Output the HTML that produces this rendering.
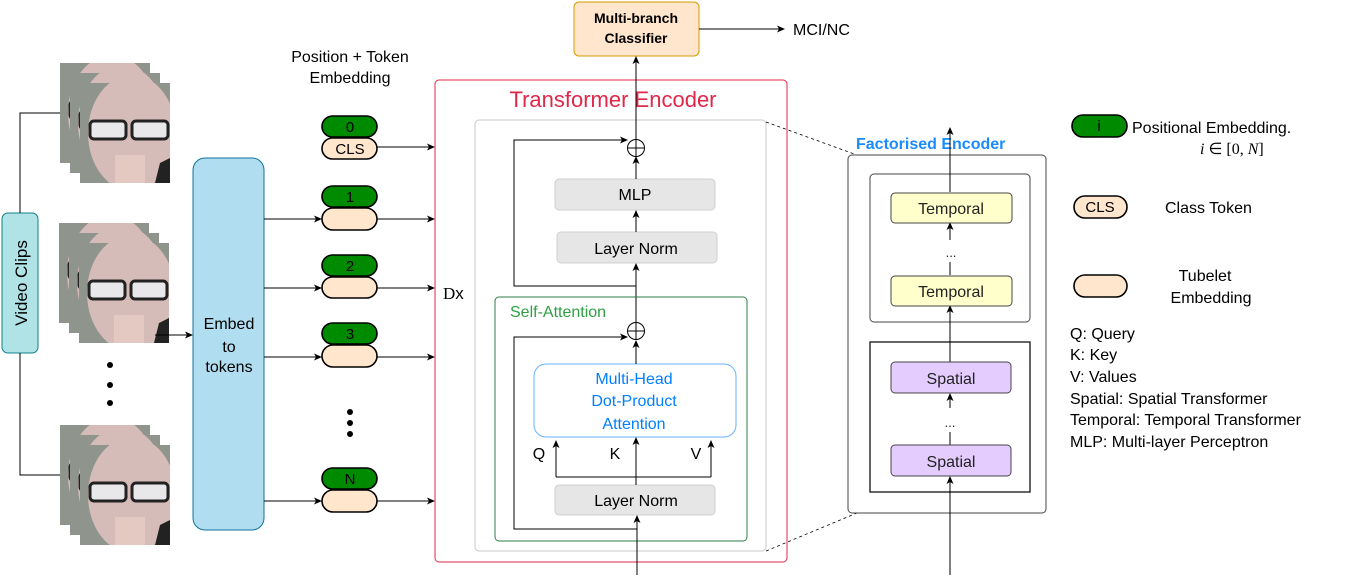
<!DOCTYPE html>
<html><head><meta charset="utf-8"><style>
html,body{margin:0;padding:0;background:#fff;}
svg{display:block;font-family:"Liberation Sans",sans-serif;}
</style></head><body>
<svg width="1346" height="581" viewBox="0 0 1346 581" xmlns="http://www.w3.org/2000/svg">
<defs>
<marker id="a" markerWidth="8" markerHeight="8" refX="7" refY="4" orient="auto" markerUnits="userSpaceOnUse">
<path d="M0,0.5 L8,4 L0,7.5 L2,4 z" fill="#000"/></marker>
<symbol id="face" viewBox="0 0 90 100" overflow="hidden">
<rect width="90" height="100" fill="#8f948c"/>
<ellipse cx="52" cy="50" rx="44" ry="58" fill="#d6bcb8"/>
<rect x="10" y="38" width="36" height="18" rx="4" fill="#e8e8ea" stroke="#222" stroke-width="3"/>
<rect x="52" y="38" width="36" height="18" rx="4" fill="#e8e8ea" stroke="#222" stroke-width="3"/>
<rect x="35" y="72" width="30" height="28" fill="#e4c8c2"/>
<path d="M80,80 L90,75 L90,100 L75,100z" fill="#222"/>
</symbol>
</defs>
<rect width="1346" height="581" fill="#fff"/>

<!-- Video clips -->
<rect x="2" y="213" width="36" height="140" rx="6" fill="#b0e3e6" stroke="#0e8088"/>
<text transform="translate(27,283) rotate(-90)" font-size="17" text-anchor="middle">Video Clips</text>
<path d="M20,213 V113 H60 M20,353 V475 H60" fill="none" stroke="#000"/>
<use href="#face" x="60" y="63" width="90" height="100"/><use href="#face" x="70" y="73" width="90" height="100"/><use href="#face" x="80" y="83" width="90" height="100"/>
<use href="#face" x="59" y="223" width="90" height="100"/><use href="#face" x="69" y="233" width="90" height="100"/><use href="#face" x="79" y="243" width="90" height="100"/>
<use href="#face" x="60" y="425" width="90" height="100"/><use href="#face" x="70" y="435" width="90" height="100"/><use href="#face" x="80" y="445" width="90" height="100"/>
<circle cx="110" cy="365" r="3"/><circle cx="110" cy="385" r="3"/><circle cx="110" cy="403" r="3"/>
<line x1="155" y1="335" x2="192" y2="335" stroke="#000" marker-end="url(#a)"/>

<rect x="193" y="158" width="71" height="372" rx="12" fill="#b1ddf0" stroke="#10739e"/>
<text font-size="16" text-anchor="middle"><tspan x="229" y="329">Embed</tspan><tspan x="229" y="352">to</tspan><tspan x="229" y="372">tokens</tspan></text>

<text font-size="16" text-anchor="middle"><tspan x="350" y="62">Position + Token</tspan><tspan x="350" y="83">Embedding</tspan></text>

<g stroke="#000" stroke-width="1.6">
<rect x="322" y="116" width="55" height="21" rx="10.5" fill="#008a00"/>
<rect x="322" y="138" width="55" height="21" rx="10.5" fill="#ffe6cc"/>
<rect x="322" y="186" width="55" height="21" rx="10.5" fill="#008a00"/>
<rect x="322" y="208" width="55" height="22" rx="11" fill="#ffe6cc"/>
<rect x="322" y="255" width="55" height="21" rx="10.5" fill="#008a00"/>
<rect x="322" y="277" width="55" height="21" rx="10.5" fill="#ffe6cc"/>
<rect x="322" y="323" width="55" height="21" rx="10.5" fill="#008a00"/>
<rect x="322" y="345" width="55" height="22" rx="11" fill="#ffe6cc"/>
<rect x="322" y="468" width="55" height="21" rx="10.5" fill="#008a00"/>
<rect x="322" y="490" width="55" height="22" rx="11" fill="#ffe6cc"/>
</g>
<g font-size="15" text-anchor="middle">
<text x="350" y="132">0</text><text x="350" y="154">CLS</text>
<text x="350" y="202">1</text><text x="350" y="271">2</text><text x="350" y="339">3</text><text x="350" y="484">N</text>
</g>
<circle cx="350" cy="412" r="3"/><circle cx="350" cy="423" r="3"/><circle cx="350" cy="434" r="3"/>
<g stroke="#000" marker-end="url(#a)">
<line x1="264" y1="219" x2="321" y2="219"/><line x1="264" y1="288" x2="321" y2="288"/>
<line x1="264" y1="357" x2="321" y2="357"/><line x1="264" y1="501" x2="321" y2="501"/>
<line x1="377" y1="147" x2="434" y2="147"/><line x1="377" y1="219" x2="434" y2="219"/>
<line x1="377" y1="288" x2="434" y2="288"/><line x1="377" y1="357" x2="434" y2="357"/>
<line x1="377" y1="501" x2="434" y2="501"/>
</g>
<text x="443" y="299" font-family="Liberation Serif,serif" font-size="17">D<tspan font-family="Liberation Sans,sans-serif">x</tspan></text>

<!-- Classifier -->
<rect x="574" y="2" width="125" height="54" rx="5" fill="#ffe6cc" stroke="#d79b00"/>
<text font-size="14" font-weight="bold" text-anchor="middle"><tspan x="636" y="23">Multi-branch</tspan><tspan x="636" y="43">Classifier</tspan></text>
<line x1="699" y1="29" x2="784" y2="29" stroke="#000" marker-end="url(#a)"/>
<text x="793" y="35" font-size="16">MCI/NC</text>

<!-- Transformer encoder -->
<rect x="435" y="80" width="352" height="482" rx="4" fill="none" stroke="#e0284a"/>
<rect x="475" y="120" width="291" height="431" rx="4" fill="none" stroke="#c8c8c8"/>
<text x="613" y="107" font-size="22" fill="#e0284a" text-anchor="middle">Transformer Encoder</text>
<line x1="636" y1="139" x2="636" y2="57" stroke="#000" marker-end="url(#a)"/>
<circle cx="636" cy="148" r="8.5" fill="#fff" stroke="#000"/>
<path d="M627.5,148h17M636,139.5v17" stroke="#000"/>
<rect x="555" y="179" width="160" height="31" rx="4" fill="#e6e6e6" stroke="#d0d0d0"/>
<text x="635" y="200" font-size="16" text-anchor="middle">MLP</text>
<rect x="557" y="232" width="160" height="31" rx="4" fill="#e6e6e6" stroke="#d0d0d0"/>
<text x="636" y="254" font-size="16" text-anchor="middle">Layer Norm</text>
<g stroke="#000" fill="none">
<line x1="636" y1="179" x2="636" y2="157" marker-end="url(#a)"/>
<line x1="636" y1="232" x2="636" y2="211" marker-end="url(#a)"/>
<line x1="636" y1="322" x2="636" y2="264" marker-end="url(#a)"/>
<path d="M636,286 H514 V140 H627" marker-end="url(#a)"/>
</g>

<rect x="495" y="297" width="252" height="244" rx="4" fill="none" stroke="#2d7d46"/>
<text x="510" y="317" font-size="16" fill="#2ea043">Self-Attention</text>
<circle cx="636" cy="331" r="8.5" fill="#fff" stroke="#000"/>
<path d="M627.5,331h17M636,322.5v17" stroke="#000"/>
<rect x="534" y="364" width="202" height="73" rx="12" fill="#fff" stroke="#66b2ff"/>
<text font-size="16" fill="#007fff" text-anchor="middle"><tspan x="634" y="384">Multi-Head</tspan><tspan x="634" y="406">Dot-Product</tspan><tspan x="634" y="429">Attention</tspan></text>
<rect x="555" y="485" width="160" height="30" rx="4" fill="#e6e6e6" stroke="#d0d0d0"/>
<text x="636" y="506" font-size="16" text-anchor="middle">Layer Norm</text>
<g font-size="16" text-anchor="middle"><text x="539" y="459">Q</text><text x="615" y="459">K</text><text x="696" y="459">V</text></g>
<g stroke="#000" fill="none">
<line x1="636" y1="364" x2="636" y2="341" marker-end="url(#a)"/>
<line x1="636" y1="485" x2="636" y2="438" marker-end="url(#a)"/>
<path d="M556,477 H711" />
<line x1="556" y1="477" x2="556" y2="441" marker-end="url(#a)"/>
<line x1="711" y1="477" x2="711" y2="441" marker-end="url(#a)"/>
<line x1="637" y1="575" x2="637" y2="516" marker-end="url(#a)"/>
<path d="M637,529 H514 V337 H627" marker-end="url(#a)"/>
</g>

<!-- dashed connectors -->
<g stroke="#000" stroke-dasharray="3,3" stroke-width="0.8">
<line x1="766" y1="122" x2="857" y2="155"/>
<line x1="766" y1="551" x2="857" y2="513"/>
</g>

<!-- Factorised encoder -->
<text x="856" y="149" font-size="16" font-weight="bold" fill="#1a8cff">Factorised  Encoder</text>
<rect x="848" y="155" width="198" height="358" rx="4" fill="none" stroke="#444"/>
<rect x="870" y="174" width="160" height="148" rx="4" fill="none" stroke="#444"/>
<rect x="870" y="342" width="160" height="150" fill="none" stroke="#222" stroke-width="1.4"/>
<g stroke="#000" fill="none">
<line x1="950" y1="575" x2="950" y2="477" marker-end="url(#a)"/>
<line x1="950" y1="445" x2="950" y2="432"/>
<line x1="950" y1="408" x2="950" y2="394" marker-end="url(#a)"/>
<line x1="950" y1="362" x2="950" y2="306" marker-end="url(#a)"/>
<line x1="950" y1="275" x2="950" y2="262"/>
<line x1="950" y1="240" x2="950" y2="223" marker-end="url(#a)"/>
<line x1="950" y1="192" x2="950" y2="128" marker-end="url(#a)"/>
</g>
<g stroke="#444" stroke-width="1">
<rect x="891" y="193" width="121" height="30" rx="4" fill="#ffffcc"/>
<rect x="891" y="276" width="121" height="30" rx="4" fill="#ffffcc"/>
<rect x="891" y="362" width="120" height="31" rx="4" fill="#e5ccff"/>
<rect x="891" y="445" width="120" height="31" rx="4" fill="#e5ccff"/>
</g>
<g font-size="16" text-anchor="middle" fill="#222">
<text x="951" y="214">Temporal</text><text x="951" y="297">Temporal</text>
<text x="951" y="384">Spatial</text><text x="951" y="467">Spatial</text>
<text x="951" y="257" font-size="13">...</text><text x="950" y="427" font-size="13">...</text>
</g>

<!-- Legend -->
<rect x="1072" y="115" width="55" height="22" rx="11" fill="#008a00" stroke="#000" stroke-width="1.6"/>
<text x="1099" y="131" font-size="15" text-anchor="middle">i</text>
<text x="1132" y="133" font-size="16">Positional Embedding.</text>
<text x="1200" y="154" font-size="16" font-family="Liberation Serif,serif"><tspan font-style="italic">i</tspan> ∈ [0, <tspan font-style="italic">N</tspan>]</text>
<rect x="1074" y="196" width="53" height="22" rx="11" fill="#ffe6cc" stroke="#000" stroke-width="1.6"/>
<text x="1100" y="212" font-size="15" text-anchor="middle">CLS</text>
<text x="1165" y="213" font-size="16">Class Token</text>
<rect x="1074" y="275" width="53" height="22" rx="11" fill="#ffe6cc" stroke="#000" stroke-width="1.6"/>
<text font-size="16" text-anchor="middle"><tspan x="1205" y="281">Tubelet</tspan><tspan x="1211" y="303">Embedding</tspan></text>
<g font-size="16">
<text x="1070" y="339">Q: Query</text>
<text x="1070" y="360">K: Key</text>
<text x="1070" y="382">V: Values</text>
<text x="1070" y="404">Spatial: Spatial Transformer</text>
<text x="1070" y="425">Temporal: Temporal Transformer</text>
<text x="1070" y="447">MLP: Multi-layer Perceptron</text>
</g>
</svg>
</body></html>
